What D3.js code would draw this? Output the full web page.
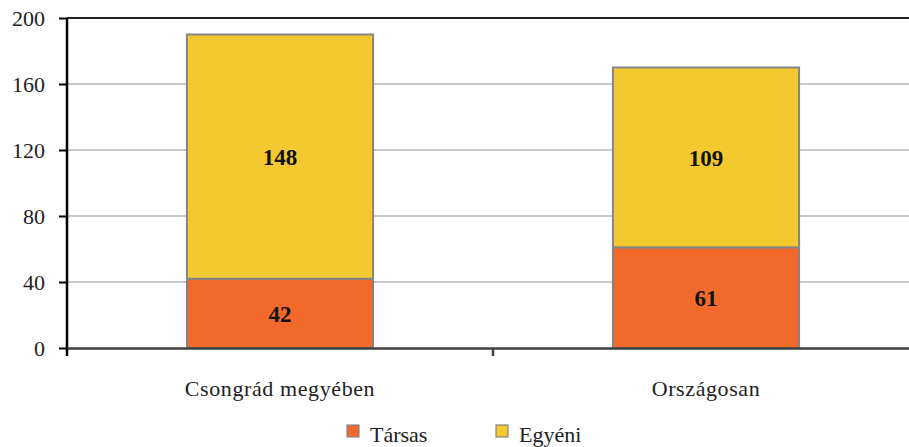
<!DOCTYPE html>
<html><head><meta charset="utf-8">
<script src="https://cdn.jsdelivr.net/npm/d3@7"></script>
<style>body{margin:0;background:#fff}svg{display:block}</style>
</head><body><svg id="c" width="909" height="447"></svg>
<script>
const categories = ["Csongrád megyében", "Országosan"];
const seriesNames = ["Társas", "Egyéni"];
const tarsas = [42, 61];
const egyeni = [148, 109];
const yTicks = [0, 40, 80, 120, 160, 200];
const colors = ["#F26A2B", "#F4C82F"];
const FONT = "'Liberation Serif', 'Times New Roman', serif";

const svg = d3.select("#c");
const x = d3.scaleBand().domain(categories).range([67, 919]).paddingInner(0).paddingOuter(0);
const y = d3.scaleLinear().domain([0, 200]).range([348, 18]);
const bw = x.bandwidth() * 0.437;

svg.append("g").selectAll("line").data(yTicks.filter(t => t > 0 && t < 200)).join("line")
  .attr("x1", 67).attr("x2", 909).attr("y1", d => y(d)).attr("y2", d => y(d))
  .attr("stroke", "#b8b8b8").attr("stroke-width", 1.3);
svg.append("line").attr("x1", 67).attr("x2", 909).attr("y1", y(200)).attr("y2", y(200))
  .attr("stroke", "#222").attr("stroke-width", 2);

const data = categories.map((c, i) => ({c, vals: [tarsas[i], egyeni[i]]}));
const stacked = d3.stack().keys([0, 1]).value((d, k) => d.vals[k])(data);

stacked.forEach((s, k) => {
  const g = svg.append("g");
  g.selectAll("rect").data(s).join("rect")
    .attr("x", d => x(d.data.c) + (x.bandwidth() - bw) / 2)
    .attr("width", bw)
    .attr("y", d => y(d[1]))
    .attr("height", d => y(d[0]) - y(d[1]))
    .attr("fill", colors[k]).attr("stroke", "#858585").attr("stroke-width", 2);
  g.selectAll("text").data(s).join("text")
    .attr("x", d => x(d.data.c) + x.bandwidth() / 2)
    .attr("y", d => (y(d[0]) + y(d[1])) / 2)
    .attr("dy", "0.36em").attr("text-anchor", "middle")
    .attr("font-family", FONT)
    .attr("font-size", 23).attr("font-weight", "bold").attr("fill", "#111")
    .text(d => d[1] - d[0]);
});

const ya = svg.append("g").attr("transform", "translate(67,0)")
  .call(d3.axisLeft(y).tickValues(yTicks).tickSize(8).tickPadding(14).tickFormat(d3.format("d")));
ya.attr("font-family", FONT);
ya.select(".domain").attr("d", `M0,${y(200)}V${y(0) + 8}`).attr("stroke", "#000").attr("stroke-width", 2.5);
ya.selectAll(".tick line").attr("stroke", "#000").attr("stroke-width", 2);
ya.selectAll(".tick text").attr("font-size", 22).attr("fill", "#222").attr("dy", "0.36em");

const xa = svg.append("g").attr("transform", `translate(0,${y(0)})`)
  .call(d3.axisBottom(x).tickSize(0));
xa.attr("font-family", FONT);
xa.select(".domain").attr("stroke", "#404040").attr("stroke-width", 2.5);
xa.selectAll(".tick text").attr("font-size", 22).attr("fill", "#222")
  .attr("y", 48).attr("dy", 0).attr("letter-spacing", "0.6px");
svg.append("line").attr("x1", x(categories[1])).attr("x2", x(categories[1]))
  .attr("y1", y(0)).attr("y2", y(0) + 8).attr("stroke", "#404040").attr("stroke-width", 2.5);

const legX = [347, 496];
const lg = svg.append("g").attr("font-family", FONT);
seriesNames.forEach((n, i) => {
  lg.append("rect").attr("x", legX[i]).attr("y", 425).attr("width", 12).attr("height", 12)
    .attr("fill", colors[i]).attr("stroke", "#858585").attr("stroke-width", 1.2);
  lg.append("text").attr("x", legX[i] + 23).attr("y", 442).attr("font-size", 22).attr("fill", "#222").text(n);
});
</script></body></html>
